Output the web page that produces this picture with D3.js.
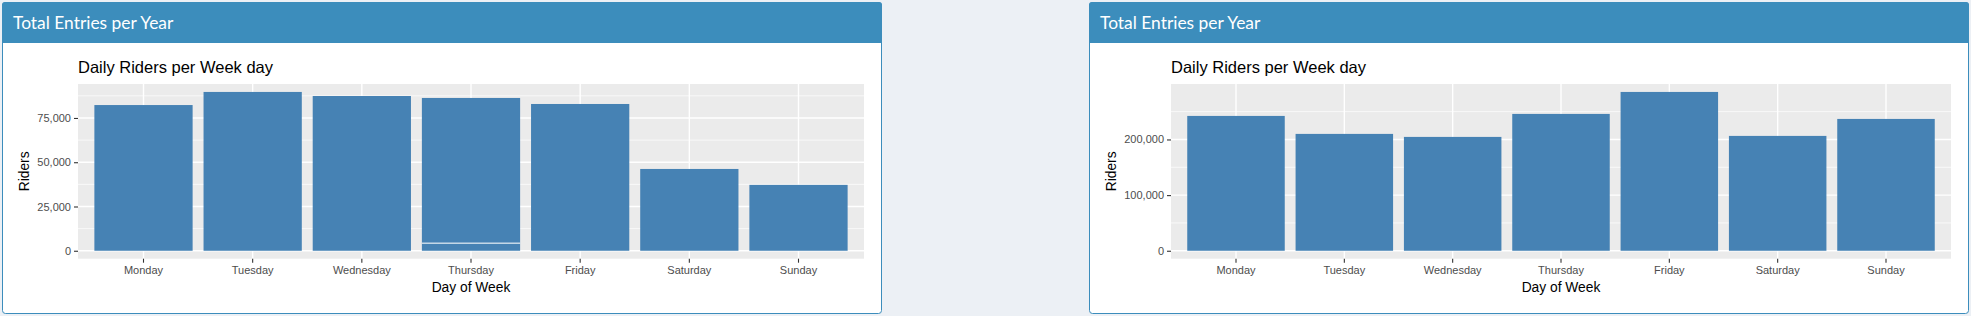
<!DOCTYPE html>
<meta charset='utf-8'>
<style>
	body { margin: 0; background: #ecf0f5; }
	svg { display: block; }
</style>
<body>
	<div id='container'></div>
<script src='https://d3js.org/d3.v7.min.js'></script>
<script>
	// data
	const days = [ 'Monday', 'Tuesday', 'Wednesday', 'Thursday', 'Friday', 'Saturday', 'Sunday' ];
	const leftRiders = [ 82300, 89700, 87400, 4300, 82900, 46200, 37200 ];
	const leftRidersExtra = [ 0, 0, 0, 82000, 0, 0, 0 ];
	const rightRiders = [ 242300, 210000, 204600, 245900, 285400, 206400, 236900 ];
	const leftTicks = [ 0, 25000, 50000, 75000 ];
	const rightTicks = [ 0, 100000, 200000 ];
	const boxTitle = 'Total Entries per Year';
	const chartTitle = 'Daily Riders per Week day';
	const xTitle = 'Day of Week', yTitle = 'Riders';

	const W = 1971, H = 316,
		boxTop = 2, boxBottom = 314, headerBottom = 43,
		panelTop = 84, panelBottom = 258.7,
		blue = '#3c8dbc', bar = '#4682B4', panelFill = '#EBEBEB';

	let svg = d3.select( '#container' )
		.append( 'svg' )
		.attr( 'width', W )
		.attr( 'height', H )
		.style( 'font-family', '"Liberation Sans", Arial, sans-serif' );

	svg.append( 'rect' )
		.attr( 'width', W ).attr( 'height', H )
		.attr( 'fill', '#ecf0f5' );

	const drawBox = ( cfg ) => {
		let g = svg.append( 'g' );
		let bw = cfg.right - cfg.left;

		// box frame + solid header
		g.append( 'rect' )
			.attr( 'x', cfg.left + 0.5 ).attr( 'y', boxTop + 0.5 )
			.attr( 'width', bw - 1 ).attr( 'height', boxBottom - boxTop - 1 )
			.attr( 'rx', 3 )
			.attr( 'fill', 'white' )
			.attr( 'stroke', blue );
		g.append( 'rect' )
			.attr( 'x', cfg.left ).attr( 'y', boxTop )
			.attr( 'width', bw ).attr( 'height', headerBottom - boxTop )
			.attr( 'rx', 3 )
			.attr( 'fill', blue );
		g.append( 'rect' )
			.attr( 'x', cfg.left ).attr( 'y', headerBottom - 6 )
			.attr( 'width', bw ).attr( 'height', 6 )
			.attr( 'fill', blue );
		g.append( 'text' )
			.attr( 'x', cfg.left + 11 ).attr( 'y', 28.5 )
			.style( 'font-family', 'Lato, "Open Sans", sans-serif' )
			.style( 'font-size', '17.4px' )
			.attr( 'fill', 'white' )
			.text( boxTitle );

		let pl = cfg.panelLeft, pr = cfg.right - 18;

		let xScale = d3.scaleBand()
			.domain( days )
			.range( [ pl, pr ] )
			.paddingInner( 0.1 )
			.paddingOuter( 0.15 );

		let stacked = d3.stack().keys( d3.range( cfg.layers.length ) )(
			days.map( ( d, i ) => cfg.layers.map( l => l[ i ] ) )
		);
		let top = d3.max( days, ( d, i ) => d3.sum( cfg.layers, l => l[ i ] ) );
		let yScale = d3.scaleLinear()
			.domain( [ -0.05 * top, 1.05 * top ] )
			.range( [ panelBottom, panelTop ] );

		g.append( 'rect' )
			.attr( 'x', pl ).attr( 'y', panelTop )
			.attr( 'width', pr - pl ).attr( 'height', panelBottom - panelTop )
			.attr( 'fill', panelFill );

		// grid
		let step = cfg.ticks[ 1 ] - cfg.ticks[ 0 ];
		let minor = cfg.ticks.map( t => t + step / 2 ).filter( t => t < yScale.domain()[ 1 ] );
		g.selectAll( '.minor' )
			.data( minor )
			.enter().append( 'line' )
				.attr( 'x1', pl ).attr( 'x2', pr )
				.attr( 'y1', d => yScale( d ) ).attr( 'y2', d => yScale( d ) )
				.attr( 'stroke', 'white' ).attr( 'stroke-width', 0.7 );
		g.selectAll( '.major' )
			.data( cfg.ticks )
			.enter().append( 'line' )
				.attr( 'x1', pl ).attr( 'x2', pr )
				.attr( 'y1', d => yScale( d ) ).attr( 'y2', d => yScale( d ) )
				.attr( 'stroke', 'white' ).attr( 'stroke-width', 1.4 );
		g.selectAll( '.vgrid' )
			.data( days )
			.enter().append( 'line' )
				.attr( 'x1', d => xScale( d ) + xScale.bandwidth() / 2 )
				.attr( 'x2', d => xScale( d ) + xScale.bandwidth() / 2 )
				.attr( 'y1', panelTop ).attr( 'y2', panelBottom )
				.attr( 'stroke', 'white' ).attr( 'stroke-width', 1.4 );

		// bars
		stacked.forEach( layer => {
			g.selectAll( null )
				.data( layer.map( ( s, i ) => ( { day: days[ i ], y0: s[ 0 ], y1: s[ 1 ] } ) ).filter( s => s.y1 > s.y0 ) )
				.enter().append( 'rect' )
					.attr( 'x', d => xScale( d.day ) )
					.attr( 'width', xScale.bandwidth() )
					.attr( 'y', d => yScale( d.y1 ) )
					.attr( 'height', d => yScale( d.y0 ) - yScale( d.y1 ) )
					.attr( 'fill', bar );
			// hairline where a stacked piece sits on another
			g.selectAll( null )
				.data( layer.map( ( s, i ) => ( { day: days[ i ], y0: s[ 0 ], y1: s[ 1 ] } ) ).filter( s => s.y1 > s.y0 && s.y0 > 0 ) )
				.enter().append( 'line' )
					.attr( 'x1', d => xScale( d.day ) )
					.attr( 'x2', d => xScale( d.day ) + xScale.bandwidth() )
					.attr( 'y1', d => yScale( d.y0 ) ).attr( 'y2', d => yScale( d.y0 ) )
					.attr( 'stroke', 'white' ).attr( 'stroke-width', 1 );
		} );

		// axes
		let yAxisEl = g.append( 'g' )
			.attr( 'transform', `translate( ${pl}, 0 )` )
			.call( d3.axisLeft( yScale ).tickValues( cfg.ticks ).tickFormat( d3.format( ',' ) ).tickSize( 4 ).tickPadding( 3 ) );
		let xAxisEl = g.append( 'g' )
			.attr( 'transform', `translate( 0, ${panelBottom} )` )
			.call( d3.axisBottom( xScale ).tickSize( 4 ).tickPadding( 4 ) );
		[ yAxisEl, xAxisEl ].forEach( a => {
			a.select( '.domain' ).remove();
			a.selectAll( 'line' ).attr( 'stroke', '#333333' ).attr( 'stroke-width', 1.1 );
			a.selectAll( 'text' )
				.attr( 'fill', '#4D4D4D' )
				.style( 'font-size', '11px' )
				.style( 'font-family', '"Liberation Sans", Arial, sans-serif' );
		} );

		let yb = yAxisEl.node().getBBox();
		g.append( 'text' )
			.attr( 'transform', `translate( ${pl + yb.x - 8}, ${( panelTop + panelBottom ) / 2} ) rotate( -90 )` )
			.attr( 'text-anchor', 'middle' )
			.style( 'font-size', '13.8px' )
			.text( yTitle );
		g.append( 'text' )
			.attr( 'x', ( pl + pr ) / 2 ).attr( 'y', 292 )
			.attr( 'text-anchor', 'middle' )
			.style( 'font-size', '13.8px' )
			.text( xTitle );
		g.append( 'text' )
			.attr( 'x', pl ).attr( 'y', 72.5 )
			.style( 'font-size', '16.5px' )
			.text( chartTitle );
	};

	drawBox( { left: 2, right: 882, panelLeft: 78, layers: [ leftRiders, leftRidersExtra ], ticks: leftTicks } );
	drawBox( { left: 1089, right: 1969, panelLeft: 1171, layers: [ rightRiders ], ticks: rightTicks } );
</script>
</body>
